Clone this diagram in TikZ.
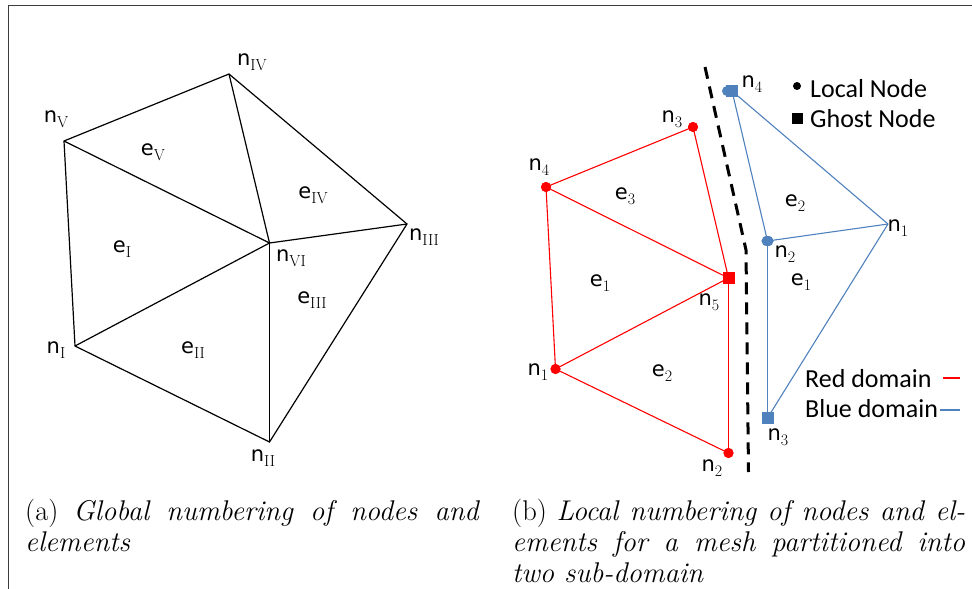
\documentclass[tikz,border=0pt]{standalone}
\usepackage{fontspec}
\newfontfamily\lblfont{DejaVu Sans}
\newfontfamily\calfont{Carlito}
\definecolor{myred}{RGB}{255,0,0}
\definecolor{myblue}{RGB}{79,129,189}
\definecolor{framecol}{RGB}{60,60,60}
\newcommand\lab[2]{{\lblfont #1}\raisebox{-5pt}{\fontsize{16}{16}\selectfont\rmfamily #2}}
\tikzset{
  lbl/.style={font=\fontsize{21}{21}\selectfont, inner sep=0pt},
  mesh/.style={line width=1.2pt, black},
  redl/.style={line width=1.1pt, myred},
  bluel/.style={line width=1.1pt, myblue},
  rdot/.style={circle, fill=myred, minimum size=10pt, inner sep=0pt},
  rsq/.style={rectangle, fill=myred, minimum size=12pt, inner sep=0pt},
  bdot/.style={ellipse, fill=myblue, minimum width=12pt, minimum height=10pt, inner sep=0pt},
  bsq/.style={rectangle, fill=myblue, minimum size=12pt, inner sep=0pt},
  legtxt/.style={font=\calfont\fontsize{26}{26}\selectfont, inner sep=0pt, anchor=west},
  captxt/.style={font=\fontsize{28.5}{31}\selectfont, inner sep=0pt, anchor=base west},
}
\usetikzlibrary{shapes.geometric}
\begin{document}
\begin{tikzpicture}[x=1pt,y=-1pt]
\useasboundingbox (0,0) rectangle (972,589);
\draw[framecol, line width=1pt] (8.5,589) -- (8.5,5.5) -- (972,5.5);

% ---------- left mesh ----------
\coordinate (nI) at (75,346);
\coordinate (nII) at (269.5,442);
\coordinate (nIII) at (407,224);
\coordinate (nIV) at (229,74);
\coordinate (nV) at (64,141);
\coordinate (nVI) at (269.5,243);
\draw[mesh] (nI) -- (nV) -- (nIV) -- (nIII) -- (nII) -- cycle;
\draw[mesh] (nVI) -- (nI);
\draw[mesh] (nVI) -- (nII);
\draw[mesh] (nVI) -- (nIII);
\draw[mesh] (nVI) -- (nIV);
\draw[mesh] (nVI) -- (nV);

\node[lbl] (lnV) at (56,119) {\lab{n}{V}};
\node[lbl] (lnIV) at (252,62) {\lab{n}{IV}};
\node[lbl] (lnIII) at (424,237) {\lab{n}{III}};
\node[lbl] (lnVI) at (291,258) {\lab{n}{VI}};
\node[lbl] (lnII) at (263,458) {\lab{n}{II}};
\node[lbl] (lnI) at (56,350) {\lab{n}{I}};
\node[lbl] (leV) at (153,152) {\lab{e}{V}};
\node[lbl] (leI) at (122,249) {\lab{e}{I}};
\node[lbl] (leII) at (193,350) {\lab{e}{II}};
\node[lbl] (leIV) at (313,195) {\lab{e}{IV}};
\node[lbl] (leIII) at (312,300) {\lab{e}{III}};

% ---------- right mesh: dashed partition ----------
\coordinate (d1) at (705,67);
\coordinate (d2) at (746,250);
\coordinate (d3) at (748.5,472);
\draw[black, line width=3pt, dash pattern=on 12pt off 8pt] (d1) -- (d2) -- (d3);

% red domain
\node[rdot] (r1) at (555.5,369) {};
\node[rdot] (r2) at (728.5,453) {};
\node[rdot] (r3) at (693,127) {};
\node[rdot] (r4) at (546,187) {};
\node[rsq] (r5) at (728.5,278) {};
\draw[redl] (r4.center) -- (r3.center);
\draw[redl] (r3.center) -- (r5.center);
\draw[redl] (r4.center) -- (r5.center);
\draw[redl] (r4.center) -- (r1.center);
\draw[redl] (r1.center) -- (r5.center);
\draw[redl] (r1.center) -- (r2.center);
\draw[redl] (r5.center) -- (r2.center);
\node[rdot] at (r1) {};
\node[rdot] at (r2) {};
\node[rdot] at (r3) {};
\node[rdot] at (r4) {};
\node[rsq] at (r5) {};

\node[lbl] (lr3) at (672,119) {\lab{n}{3}};
\node[lbl] (lr4) at (539,167) {\lab{n}{4}};
\node[lbl] (lr5) at (709,302) {\lab{n}{5}};
\node[lbl] (lr1) at (538,372) {\lab{n}{1}};
\node[lbl] (lr2) at (712,468) {\lab{n}{2}};
\node[lbl] (ler3) at (625,196) {\lab{e}{3}};
\node[lbl] (ler1) at (600,283) {\lab{e}{1}};
\node[lbl] (ler2) at (662,373) {\lab{e}{2}};

% blue domain
\coordinate (b1) at (888,224);
\node[bdot] (b2) at (767.5,241) {};
\node[bsq] (b3) at (767.5,418) {};
\node[bsq] (b4) at (732,91) {};
\draw[bluel] (b4.center) -- (b2.center);
\draw[bluel] (b4.center) -- (b1);
\draw[bluel] (b2.center) -- (b1);
\draw[bluel] (b2.center) -- (b3.center);
\draw[bluel] (b1) -- (b3.center);
\node[bdot] at (b2) {};
\node[bsq] at (b3) {};
\node[bsq] at (b4) {};
\node[circle, fill=myblue, minimum size=10pt, inner sep=0pt] at (727,91) {};

\node[lbl] (lb4) at (752,84) {\lab{n}{4}};
\node[lbl] (lb1) at (898,228) {\lab{n}{1}};
\node[lbl] (lb2) at (785,254) {\lab{n}{2}};
\node[lbl] (lb3) at (778,437) {\lab{n}{3}};
\node[lbl] (leb2) at (795,203) {\lab{e}{2}};
\node[lbl] (leb1) at (801,282) {\lab{e}{1}};

% legend
\node[circle, fill=black, minimum size=8pt, inner sep=0pt] (kdot) at (797,86) {};
\node[rectangle, fill=black, minimum size=11pt, inner sep=0pt] (ksq) at (797,118) {};
\node[legtxt] (tloc) at (810,89) {Local Node};
\node[legtxt] (tgho) at (810,119) {Ghost Node};
\node[legtxt] (tred) at (805,379) {Red domain};
\node[legtxt] (tblu) at (805,409) {Blue domain};
\coordinate (kr1) at (943,378);
\coordinate (kr2) at (960,378);
\coordinate (kb1) at (940,410);
\coordinate (kb2) at (960,410);
\draw[myred, line width=2.5pt] (kr1) -- (kr2);
\draw[myblue, line width=2.5pt] (kb1) -- (kb2);

% captions
\node[captxt] (ca1) at (25,520) {\makebox[455pt][s]{(a)\ \textit{Global numbering of nodes and}}};
\node[captxt] (ca2) at (25,551) {\textit{elements}};
\node[captxt] (cb1) at (512,520) {\makebox[453pt][s]{(b)\ \textit{Local numbering of nodes and el-}}};
\node[captxt] (cb2) at (512,551) {\makebox[453pt][s]{\textit{ements for a mesh partitioned into}}};
\node[captxt] (cb3) at (512,582) {\textit{two sub-domain}};
\end{tikzpicture}
\end{document}
